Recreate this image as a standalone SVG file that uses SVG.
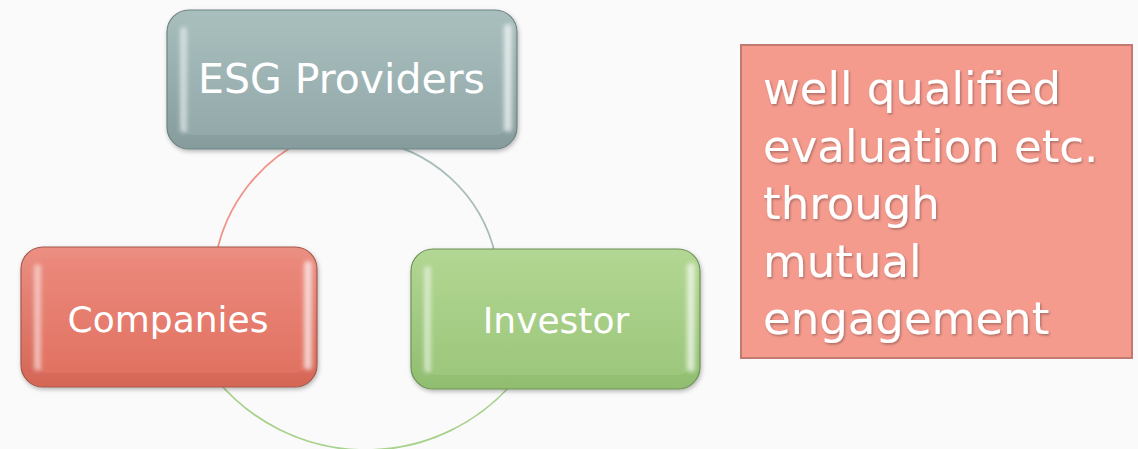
<svg xmlns="http://www.w3.org/2000/svg" width="1138" height="449" viewBox="0 0 1138 449">
  <style>
    .lbl { font-family: "DejaVu Sans", Verdana, sans-serif; fill: #FFFFFF; text-anchor: middle; }
    .note { font-family: "DejaVu Sans", Verdana, sans-serif; fill: #FFFFFF; font-size: 45px; }
    .arc { fill: none; stroke-width: 1.8; }
    .hl { fill: #FFFFFF; opacity: 0.5; }
    .hr { fill: #FFFFFF; opacity: 0.65; }
  </style>
  <defs>
    <filter id="shadow" x="-10%" y="-10%" width="120%" height="130%">
      <feDropShadow dx="1" dy="2" stdDeviation="2" flood-color="#000" flood-opacity="0.28"/>
    </filter>
    <filter id="blur" x="-100%" y="-10%" width="300%" height="120%">
      <feGaussianBlur stdDeviation="2"/>
    </filter>
    <filter id="tshadow" x="-5%" y="-20%" width="110%" height="150%">
      <feDropShadow dx="1.2" dy="1.5" stdDeviation="1" flood-color="#000" flood-opacity="0.3"/>
    </filter>
    <linearGradient id="gEsgO" x1="0" y1="0" x2="0" y2="1">
      <stop offset="0" stop-color="#A9BFBE"/>
      <stop offset="1" stop-color="#869B9C"/>
    </linearGradient>
    <linearGradient id="gEsgI" x1="0" y1="0" x2="0" y2="1">
      <stop offset="0" stop-color="#A8BEBD"/>
      <stop offset="1" stop-color="#93A9AA"/>
    </linearGradient>
    <linearGradient id="gComO" x1="0" y1="0" x2="0" y2="1">
      <stop offset="0" stop-color="#EC8F83"/>
      <stop offset="1" stop-color="#D56656"/>
    </linearGradient>
    <linearGradient id="gComI" x1="0" y1="0" x2="0" y2="1">
      <stop offset="0" stop-color="#EB897C"/>
      <stop offset="1" stop-color="#E17262"/>
    </linearGradient>
    <linearGradient id="gInvO" x1="0" y1="0" x2="0" y2="1">
      <stop offset="0" stop-color="#B3D794"/>
      <stop offset="1" stop-color="#90BD6F"/>
    </linearGradient>
    <linearGradient id="gInvI" x1="0" y1="0" x2="0" y2="1">
      <stop offset="0" stop-color="#B0D590"/>
      <stop offset="1" stop-color="#9DC77C"/>
    </linearGradient>
  </defs>

  <rect width="1138" height="449" fill="#FAFAFA"/>

  <g id="connectors">
    <path class="arc" stroke="#F0948A" d="M304.3,140 A164,164 0 0 0 216.2,255"/>
    <path class="arc" stroke="#A9BDBD" d="M367,140 A149,149 0 0 1 495.5,256"/>
    <path class="arc" stroke="#A8D18D" d="M216.8,380 A194,194 0 0 0 513.5,382"/>
  </g>

  <g id="node-esg">
    <rect x="167" y="10" width="350" height="139" rx="22" fill="url(#gEsgO)" stroke="#6F8384" stroke-width="1.2" filter="url(#shadow)"/>
    <rect x="180" y="21" width="328" height="114" rx="13" fill="url(#gEsgI)"/>
    <rect class="hl" x="180" y="27" width="7" height="106" rx="3.5" filter="url(#blur)"/>
    <rect class="hr" x="504" y="24" width="8" height="108" rx="4" filter="url(#blur)"/>
    <text class="lbl" x="341.5" y="93" font-size="41">ESG Providers</text>
  </g>

  <g id="node-companies">
    <rect x="21" y="247" width="296" height="140" rx="22" fill="url(#gComO)" stroke="#A4584C" stroke-width="1.2" filter="url(#shadow)"/>
    <rect x="34" y="258" width="274" height="115" rx="13" fill="url(#gComI)"/>
    <rect class="hl" x="34" y="264" width="7" height="107" rx="3.5" filter="url(#blur)"/>
    <rect class="hr" x="304" y="261" width="8" height="109" rx="4" filter="url(#blur)"/>
    <text class="lbl" x="168" y="331.5" font-size="36">Companies</text>
  </g>

  <g id="node-investor">
    <rect x="411" y="249" width="289" height="140" rx="22" fill="url(#gInvO)" stroke="#6E9157" stroke-width="1.2" filter="url(#shadow)"/>
    <rect x="424" y="260" width="267" height="115" rx="13" fill="url(#gInvI)"/>
    <rect class="hl" x="424" y="266" width="7" height="107" rx="3.5" filter="url(#blur)"/>
    <rect class="hr" x="687" y="263" width="8" height="109" rx="4" filter="url(#blur)"/>
    <text class="lbl" x="556" y="333.3" font-size="36">Investor</text>
  </g>

  <g id="note">
    <rect x="741" y="45" width="391" height="313" fill="#F49B8E" stroke="#C27A70" stroke-width="2"/>
    <g filter="url(#tshadow)">
      <text class="note" x="763" y="104">well qualified</text>
      <text class="note" x="763" y="161.5">evaluation etc.</text>
      <text class="note" x="763" y="219">through</text>
      <text class="note" x="763" y="276.5">mutual</text>
      <text class="note" x="763" y="334">engagement</text>
    </g>
  </g>
</svg>
